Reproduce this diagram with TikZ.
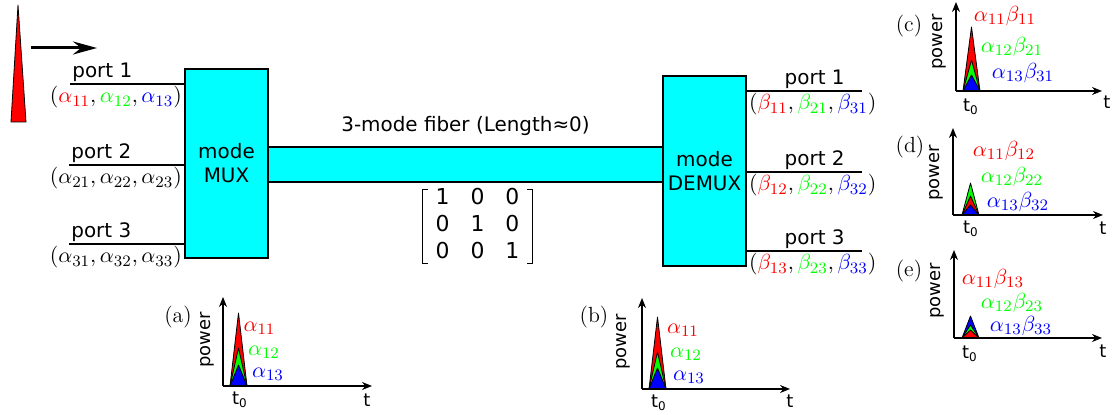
\documentclass[tikz,border=0pt]{standalone}
\usepackage{fontspec}
\setsansfont{DejaVu Sans}
\usepackage{amsmath}
\usepackage{xcolor}
\usetikzlibrary{arrows.meta,positioning}
\definecolor{modecyan}{RGB}{0,255,255}

\begin{document}
\begin{tikzpicture}[
x=0.5bp,y=-0.5bp,
blk/.style={draw,fill=modecyan,line width=0.75bp,inner sep=0pt,minimum width=41.5bp,minimum height=95bp,align=center,font=\sffamily},
fib/.style={draw,fill=modecyan,line width=0.75bp,inner sep=0pt,minimum width=197.5bp,minimum height=17.5bp},
wire/.style={line width=0.75bp},
txt/.style={font=\sffamily,inner sep=1bp},
cf/.style={font=\fontsize{11}{13}\selectfont,inner sep=1bp},
ax/.style={-{Stealth[length=5bp,width=4bp]},line width=0.65bp},
pk/.style={draw=black,line width=0.4bp,line join=round},
pw/.style={font=\sffamily\fontsize{9}{11}\selectfont,rotate=90,inner sep=0pt},
tk/.style={font=\sffamily\fontsize{9}{11}\selectfont,inner sep=0pt},
tag/.style={font=\fontsize{11}{13}\selectfont,inner sep=0pt}
]
\useasboundingbox (0,0) rectangle (1112,415);

% launched pulse
\draw[pk,fill=red] (11,122) -- (26,122) -- (18,5) -- cycle;
\coordinate (dir0) at (31,48); \coordinate (dir1) at (97,48);
\draw[-{Stealth[length=12bp,width=6.5bp,inset=4bp]},line width=1.5bp] (dir0) -- (dir1);

% mux, fiber, demux
\node[blk,minimum height=94.5bp] (mux) at (226.5,163.5) {mode\\MUX};
\node[blk] (demux) at (704.5,171) {mode\\DEMUX};
\node[fib] (fiber) at (465.5,164.5) {};
\node[txt,above=4bp of fiber] (fibtxt) {3-mode fiber (Length≈0)};
\node[inner xsep=0pt,inner ysep=-2bp,minimum width=54.5bp,font=\sffamily\fontsize{11}{13}\selectfont] (mat) at (477.5,226.5)
  {\setlength\tabcolsep{5.25bp}\def\arraystretch{1.04}\begin{tabular}{@{}ccc@{}}1&0&0\\0&1&0\\0&0&1\end{tabular}};
\draw[line width=0.5bp] ([xshift=2.5bp]mat.north west) -| (mat.south west) -- ++(2.5bp,0);
\draw[line width=0.5bp] ([xshift=-2.5bp]mat.north east) -| (mat.south east) -- ++(-2.5bp,0);

% input ports
\coordinate (in1) at (70,84); \coordinate (in2) at (69,165); \coordinate (in3) at (69,244);
\draw[wire] (in1) -- (in1 -| mux.west); \draw[wire] (in2) -- (in2 -| mux.west); \draw[wire] (in3) -- (in3 -| mux.west);
\node[txt,anchor=south west] (pin1) at (in1) {port 1};
\node[txt,anchor=south west] (pin2) at (in2) {port 2};
\node[txt,anchor=south west] (pin3) at (in3) {port 3};
\node[cf,anchor=north east] (cin1) at (in1 -| mux.west) {$(\textcolor{red}{\alpha_{11}},\textcolor{green}{\alpha_{12}},\textcolor{blue}{\alpha_{13}})$};
\node[cf,anchor=north east] (cin2) at (in2 -| mux.west) {$(\alpha_{21},\alpha_{22},\alpha_{23})$};
\node[cf,anchor=north east] (cin3) at (in3 -| mux.west) {$(\alpha_{31},\alpha_{32},\alpha_{33})$};

% output ports
\coordinate (out1) at (862,91); \coordinate (out2) at (862,172); \coordinate (out3) at (862,251);
\draw[wire] (out1 -| demux.east) -- (out1); \draw[wire] (out2 -| demux.east) -- (out2); \draw[wire] (out3 -| demux.east) -- (out3);
\node[txt,anchor=south east,xshift=-7.5bp] (pout1) at (out1) {port 1};
\node[txt,anchor=south east,xshift=-7.5bp] (pout2) at (out2) {port 2};
\node[txt,anchor=south east,xshift=-7.5bp] (pout3) at (out3) {port 3};
\node[cf,anchor=north west] (cout1) at (out1 -| demux.east) {$(\textcolor{red}{\beta_{11}},\textcolor{green}{\beta_{21}},\textcolor{blue}{\beta_{31}})$};
\node[cf,anchor=north west] (cout2) at (out2 -| demux.east) {$(\textcolor{red}{\beta_{12}},\textcolor{green}{\beta_{22}},\textcolor{blue}{\beta_{32}})$};
\node[cf,anchor=north west] (cout3) at (out3 -| demux.east) {$(\textcolor{red}{\beta_{13}},\textcolor{green}{\beta_{23}},\textcolor{blue}{\beta_{33}})$};

% (a) at mux input
\begin{scope}[shift={(223,386)}]
\coordinate (oa) at (0,0); \coordinate (ya) at (0,-89); \coordinate (xa) at (149,0);
\draw[pk,fill=red] (7,0) -- (15.5,-73) -- (24,0) -- cycle;
\draw[pk,fill=green] (7,0) -- (15.5,-38) -- (24,0) -- cycle;
\draw[pk,fill=blue] (7,0) -- (15.5,-21) -- (24,0) -- cycle;
\draw[ax] (oa) -- (ya); \draw[ax] (oa) -- (xa);
\node[pw] (pwa) at (-16,-46) {power};
\node[tag] (taga) at (-45,-69) {(a)};
\node[tk] (t0a) at (17,14) {t\textsubscript{0}};
\node[tk] (ta) at (144,14) {t};
\node[tag,text=red] (la1) at (36.5,-58) {$\alpha_{11}$};
\node[tag,text=green] (la2) at (41,-34) {$\alpha_{12}$};
\node[tag,text=blue] (la3) at (45,-12) {$\alpha_{13}$};
\end{scope}

% (b) at demux input
\begin{scope}[shift={(642,389)}]
\coordinate (ob) at (0,0); \coordinate (yb) at (0,-91); \coordinate (xb) at (148,0);
\draw[pk,fill=red] (7,0) -- (15.5,-72) -- (24,0) -- cycle;
\draw[pk,fill=green] (7,0) -- (15.5,-37) -- (24,0) -- cycle;
\draw[pk,fill=blue] (7,0) -- (15.5,-21) -- (24,0) -- cycle;
\draw[ax] (ob) -- (yb); \draw[ax] (ob) -- (xb);
\node[pw] (pwb) at (-18.5,-47) {power};
\node[tag] (tagb) at (-48,-72) {(b)};
\node[tk] (t0b) at (17,14) {t\textsubscript{0}};
\node[tk] (tb) at (148,12) {t};
\node[tag,text=red] (lb1) at (41,-59) {$\alpha_{11}$};
\node[tag,text=green] (lb2) at (44,-35) {$\alpha_{12}$};
\node[tag,text=blue] (lb3) at (47,-12) {$\alpha_{13}$};
\end{scope}

% (c) output port 1
\begin{scope}[shift={(956,91)}]
\coordinate (oc) at (0,0); \coordinate (yc) at (0,-89); \coordinate (xc) at (146,0);
\draw[pk,fill=red] (7,0) -- (15.5,-64) -- (24,0) -- cycle;
\draw[pk,fill=green] (7,0) -- (15.5,-31) -- (24,0) -- cycle;
\draw[pk,fill=blue] (7,0) -- (15.5,-16) -- (24,0) -- cycle;
\draw[ax] (oc) -- (yc); \draw[ax] (oc) -- (xc);
\node[pw] (pwc) at (-16.5,-49) {power};
\node[tag] (tagc) at (-47,-65) {(c)};
\node[tk] (t0c) at (15,16) {t\textsubscript{0}};
\node[tk] (tc) at (151,11) {t};
\node[tag,text=red] (lc1) at (49,-75) {$\alpha_{11}\beta_{11}$};
\node[tag,text=green] (lc2) at (56,-44) {$\alpha_{12}\beta_{21}$};
\node[tag,text=blue] (lc3) at (67,-18) {$\alpha_{13}\beta_{31}$};
\end{scope}

% (d) output port 2
\begin{scope}[shift={(953,215)}]
\coordinate (od) at (0,0); \coordinate (yd) at (0,-87); \coordinate (xd) at (150,0);
\draw[pk,fill=green] (9,0) -- (17.5,-32) -- (26,0) -- cycle;
\draw[pk,fill=red] (9,0) -- (17.5,-19) -- (26,0) -- cycle;
\draw[pk,fill=blue] (9,0) -- (17.5,-10) -- (26,0) -- cycle;
\draw[ax] (od) -- (yd); \draw[ax] (od) -- (xd);
\node[pw] (pwd) at (-17,-42) {power};
\node[tag] (tagd) at (-43,-68) {(d)};
\node[tk] (t0d) at (18,14) {t\textsubscript{0}};
\node[tk] (td) at (150,13) {t};
\node[tag,text=red] (ld1) at (51,-64) {$\alpha_{11}\beta_{12}$};
\node[tag,text=green] (ld2) at (59,-38) {$\alpha_{12}\beta_{22}$};
\node[tag,text=blue] (ld3) at (65,-13) {$\alpha_{13}\beta_{32}$};
\end{scope}

% (e) output port 3
\begin{scope}[shift={(954,338)}]
\coordinate (oe) at (0,0); \coordinate (ye) at (0,-88); \coordinate (xe) at (148,0);
\draw[pk,fill=blue] (8,0) -- (16.5,-22) -- (25,0) -- cycle;
\draw[pk,fill=green] (8,0) -- (16.5,-13) -- (25,0) -- cycle;
\draw[pk,fill=red] (8,0) -- (16.5,-8) -- (25,0) -- cycle;
\draw[ax] (oe) -- (ye); \draw[ax] (oe) -- (xe);
\node[pw] (pwe) at (-17,-47) {power};
\node[tag] (tage) at (-45,-67) {(e)};
\node[tk] (t0e) at (16,16) {t\textsubscript{0}};
\node[tk] (te) at (149,13) {t};
\node[tag,text=red] (le1) at (39,-59) {$\alpha_{11}\beta_{13}$};
\node[tag,text=green] (le2) at (58,-35) {$\alpha_{12}\beta_{23}$};
\node[tag,text=blue] (le3) at (67,-12) {$\alpha_{13}\beta_{33}$};
\end{scope}
\end{tikzpicture}
\end{document}
